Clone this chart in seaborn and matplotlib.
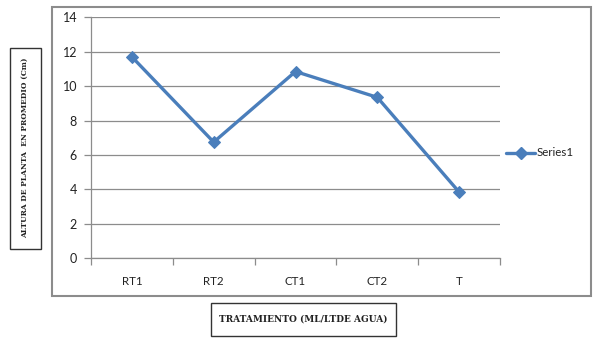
import matplotlib
matplotlib.use("Agg")
import matplotlib.pyplot as plt
import seaborn as sns
import pandas as pd
from matplotlib.patches import Rectangle
from matplotlib.lines import Line2D

tratamientos = ["RT1", "RT2", "CT1", "CT2", "T"]
altura = [11.7, 6.75, 10.85, 9.35, 3.85]
y_ticks = [0, 2, 4, 6, 8, 10, 12, 14]
serie = "Series1"

df = pd.DataFrame({"tratamiento": tratamientos, "altura": altura})

sns.set_style("white")
plt.rcParams["font.family"] = ["Lato", "DejaVu Sans"]

W, H = 600, 344
fig = plt.figure(figsize=(W / 100, H / 100), dpi=100)
fig.patch.set_facecolor("white")

def fx(px):
    return px / W

def fy(py):
    return 1 - py / H

# outer chart frame
fig.patches.append(Rectangle((fx(52), fy(296)), fx(591) - fx(52), fy(7) - fy(296),
                             transform=fig.transFigure, fill=False,
                             edgecolor="#8c8c8c", linewidth=1.5, zorder=0))

left, right, top, bottom = 91, 500, 17.3, 258.3
ax = fig.add_axes([fx(left), fy(bottom), fx(right) - fx(left), fy(top) - fy(bottom)])

blue = "#4a7ebb"
sns.lineplot(data=df, x="tratamiento", y="altura", ax=ax, color=blue,
             linewidth=2.4, marker="D", markersize=6, markeredgecolor=blue,
             sort=False, legend=False, zorder=3)

ax.set_xlim(-0.5, len(tratamientos) - 0.5)
ax.set_ylim(0, 14)
ax.set_yticks(y_ticks)
ax.set_yticklabels([str(v) for v in y_ticks])
ax.yaxis.grid(True, color="#8c8c8c", linewidth=0.9)
ax.xaxis.grid(False)
ax.set_xlabel("")
ax.set_ylabel("")

for side in ["top", "right"]:
    ax.spines[side].set_visible(False)
for side in ["left", "bottom"]:
    ax.spines[side].set_color("#8c8c8c")
    ax.spines[side].set_linewidth(0.9)

ax.set_xticks(range(len(tratamientos)))
ax.set_xticklabels(tratamientos)
ax.set_xticks([i - 0.5 for i in range(len(tratamientos) + 1)], minor=True)
ax.tick_params(axis="x", which="major", length=0, pad=13, labelsize=8.3, colors="#222222")
ax.tick_params(axis="x", which="minor", length=5, color="#8c8c8c", width=0.9, direction="out")
ax.tick_params(axis="y", which="major", length=5, color="#8c8c8c", width=0.9,
               direction="out", pad=5, labelsize=9, labelcolor="#222222")
ax.yaxis.set_ticks_position("left")
ax.xaxis.set_ticks_position("bottom")

# legend entry
fig.add_artist(Line2D([fx(506), fx(535)], [fy(152.5), fy(152.5)], transform=fig.transFigure,
                      color=blue, linewidth=2.4))
fig.add_artist(Line2D([fx(520.5)], [fy(152.5)], transform=fig.transFigure,
                      color=blue, marker="D", markersize=6, linestyle="none"))
fig.text(fx(537), fy(152.5), serie, fontsize=8.3, va="center", ha="left", color="#222222")

# boxed axis titles
serif = ["DejaVu Serif"]
fig.patches.append(Rectangle((fx(9.5), fy(249)), fx(41) - fx(9.5), fy(47.5) - fy(249),
                             transform=fig.transFigure, fill=False,
                             edgecolor="#333333", linewidth=1.0))
fig.text(fx(25.3), fy(148), "ALTURA DE PLANTA  EN PROMEDIO (Cm)", rotation=90,
         fontsize=5.4, fontweight="bold", family=serif, ha="center", va="center",
         color="#222222")

fig.patches.append(Rectangle((fx(211), fy(336)), fx(396) - fx(211), fy(303) - fy(336),
                             transform=fig.transFigure, fill=False,
                             edgecolor="#333333", linewidth=1.0))
fig.text(fx(303.5), fy(319.5), "TRATAMIENTO (ML/LTDE AGUA)", fontsize=6.5,
         fontweight="bold", family=serif, ha="center", va="center", color="#222222")

fig.savefig("out.png", dpi=100)
